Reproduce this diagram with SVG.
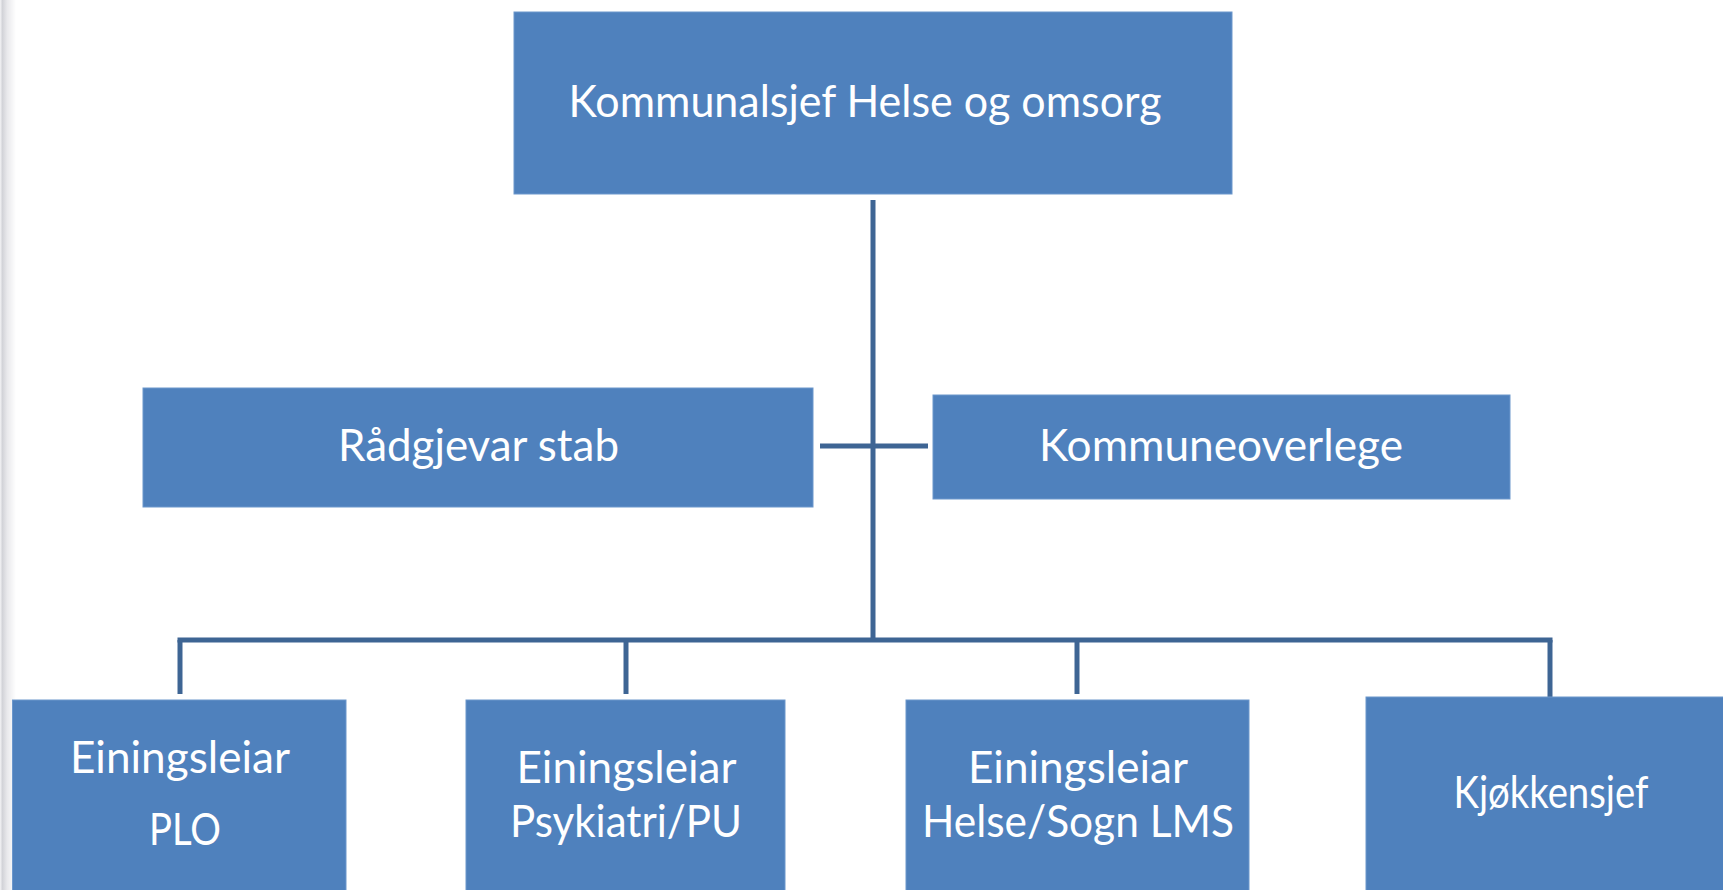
<svg xmlns="http://www.w3.org/2000/svg" width="1723" height="890" viewBox="0 0 1723 890">
  <defs>
    <linearGradient id="edge" x1="0" y1="0" x2="1" y2="0">
      <stop offset="0" stop-color="#f4f4f6"/>
      <stop offset="0.15" stop-color="#d2d3d8"/>
      <stop offset="0.45" stop-color="#e9e9ec"/>
      <stop offset="1" stop-color="#ffffff"/>
    </linearGradient>
  </defs>
  <style>
    .box { fill: #4F81BD; stroke: #6C97CC; stroke-width: 1; }
    .lbl { font-family: Lato, "Open Sans", "Liberation Sans", sans-serif; font-size: 44px; fill: #ffffff; text-anchor: middle; }
    .conn { stroke: #3E6594; stroke-width: 5; fill: none; stroke-linecap: butt; }
  </style>
  <rect x="0" y="0" width="1723" height="890" fill="#ffffff"/>
  <rect x="0" y="0" width="16" height="890" fill="url(#edge)"/>

  <g id="connectors">
    <line class="conn" x1="873" y1="200" x2="873" y2="642"/>
    <line class="conn" x1="820" y1="446" x2="928" y2="446"/>
    <line class="conn" x1="177.5" y1="640" x2="1552.5" y2="640"/>
    <line class="conn" x1="180" y1="640" x2="180" y2="694"/>
    <line class="conn" x1="626" y1="640" x2="626" y2="694"/>
    <line class="conn" x1="1077" y1="640" x2="1077" y2="694"/>
    <line class="conn" x1="1550" y1="640" x2="1550" y2="697"/>
  </g>

  <g id="node-kommunalsjef">
    <rect class="box" x="514" y="12" width="718" height="182"/>
    <text class="lbl" x="865" y="117" textLength="593" lengthAdjust="spacingAndGlyphs">Kommunalsjef Helse og omsorg</text>
  </g>

  <g id="node-radgjevar">
    <rect class="box" x="143" y="388" width="670" height="119"/>
    <text class="lbl" x="478.5" y="461" textLength="281" lengthAdjust="spacingAndGlyphs">Rådgjevar stab</text>
  </g>

  <g id="node-kommuneoverlege">
    <rect class="box" x="933" y="395" width="577" height="104"/>
    <text class="lbl" x="1221" y="461" textLength="364" lengthAdjust="spacingAndGlyphs">Kommuneoverlege</text>
  </g>

  <g id="node-plo">
    <rect class="box" x="12.5" y="700" width="333.5" height="200"/>
    <text class="lbl" x="180" y="773" textLength="220" lengthAdjust="spacingAndGlyphs">Einingsleiar</text>
    <text class="lbl" x="185" y="845" textLength="72" lengthAdjust="spacingAndGlyphs">PLO</text>
  </g>

  <g id="node-psykiatri">
    <rect class="box" x="466" y="700" width="319" height="200"/>
    <text class="lbl" x="626.5" y="783" textLength="220" lengthAdjust="spacingAndGlyphs">Einingsleiar</text>
    <text class="lbl" x="626" y="837" textLength="232" lengthAdjust="spacingAndGlyphs">Psykiatri/PU</text>
  </g>

  <g id="node-helse">
    <rect class="box" x="906" y="700" width="343" height="200"/>
    <text class="lbl" x="1078" y="783" textLength="220" lengthAdjust="spacingAndGlyphs">Einingsleiar</text>
    <text class="lbl" x="1078" y="837" textLength="312" lengthAdjust="spacingAndGlyphs">Helse/Sogn LMS</text>
  </g>

  <g id="node-kjokkensjef">
    <rect class="box" x="1366" y="697" width="370" height="200"/>
    <text class="lbl" x="1551" y="808" textLength="195" lengthAdjust="spacingAndGlyphs">Kjøkkensjef</text>
  </g>
</svg>
